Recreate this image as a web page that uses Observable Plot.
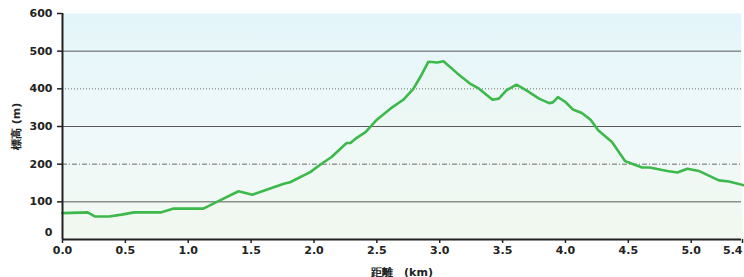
<!DOCTYPE html>
<html>
<head>
<meta charset="utf-8">
<script src="https://cdn.jsdelivr.net/npm/d3@7"></script>
<script src="https://cdn.jsdelivr.net/npm/@observablehq/plot@0.6"></script>
<style>
  html, body { margin: 0; padding: 0; background: #ffffff; }
  #chart svg { display: block; }
</style>
</head>
<body>
<div id="chart"></div>
<script>
const distKm = [0, 0.2, 0.26, 0.37, 0.47, 0.57, 0.78, 0.885, 1.12, 1.24, 1.40, 1.51, 1.76, 1.81, 1.97, 2.06, 2.14, 2.21, 2.26, 2.29, 2.34, 2.41, 2.50, 2.61, 2.71, 2.79, 2.85, 2.91, 2.98, 3.03, 3.14, 3.24, 3.31, 3.42, 3.47, 3.53, 3.61, 3.69, 3.79, 3.87, 3.90, 3.94, 4.00, 4.06, 4.13, 4.20, 4.26, 4.37, 4.475, 4.53, 4.61, 4.67, 4.81, 4.89, 4.97, 5.06, 5.22, 5.30, 5.42];
const elevM = [70, 72, 61, 61, 66, 72, 72, 82, 82, 102, 128, 119, 148, 152, 179, 201, 219, 241, 256, 256, 270, 285, 318, 348, 371, 400, 434, 472, 470, 473, 441, 414, 401, 371, 374, 396, 411, 396, 374, 362, 364, 378, 365, 345, 336, 318, 290, 259, 208, 201, 191, 191, 182, 178, 188, 182, 157, 154, 144];
const xTicks = [0, 0.5, 1.0, 1.5, 2.0, 2.5, 3.0, 3.5, 4.0, 4.5, 5.0];
const xLastTick = [5.4];
const yTicks = [0, 100, 200, 300, 400, 500, 600];
const solidGrid = [100, 300, 500];
const dashDotGrid = [200];
const dottedGrid = [400];
const xLabel = "距離　(km)";
const yLabel = "標高 (m)";

const data = distKm.map((d, i) => ({dist: d, elev: elevM[i]}));

const defs = () => {
  const g = d3.create("svg:defs");
  const bg = g.append("linearGradient").attr("id", "bgGrad").attr("x1", 0).attr("y1", 0).attr("x2", 0).attr("y2", 1);
  bg.append("stop").attr("offset", "0%").attr("stop-color", "#e3f5f9");
  bg.append("stop").attr("offset", "55%").attr("stop-color", "#f0f9fa");
  bg.append("stop").attr("offset", "100%").attr("stop-color", "#f2f9f1");
  const ar = g.append("linearGradient").attr("id", "areaGrad").attr("x1", 0).attr("y1", 0).attr("x2", 0).attr("y2", 1);
  ar.append("stop").attr("offset", "0%").attr("stop-color", "#e9f6ec").attr("stop-opacity", 0.35);
  ar.append("stop").attr("offset", "100%").attr("stop-color", "#eff8ee").attr("stop-opacity", 0.45);
  return g.node();
};

const font = "'DejaVu Sans', Verdana, sans-serif";
const tickStyle = {fontSize: 11, fontWeight: "bold", color: "#222", stroke: "#222", strokeWidth: 1.5};

const chart = Plot.plot({
  width: 744,
  height: 277,
  marginTop: 13,
  marginBottom: 38,
  marginLeft: 62,
  marginRight: 3,
  style: {fontFamily: font, background: "#ffffff"},
  x: {domain: [0, 5.4]},
  y: {domain: [0, 600]},
  marks: [
    defs,
    Plot.frame({fill: "url(#bgGrad)", stroke: null}),
    Plot.areaY(data, {x: "dist", y: "elev", fill: "url(#areaGrad)", curve: "linear"}),
    Plot.ruleY(solidGrid, {stroke: "#5a5a5a", strokeWidth: 1}),
    Plot.ruleY(dashDotGrid, {stroke: "#6a6a6a", strokeWidth: 1, strokeDasharray: "5,2,1,2"}),
    Plot.ruleY(dottedGrid, {stroke: "#6a6a6a", strokeWidth: 1, strokeDasharray: "1,2"}),
    Plot.lineY(data, {x: "dist", y: "elev", stroke: "#3cb94a", strokeWidth: 2.6, strokeLinejoin: "round", strokeLinecap: "round"}),
    Plot.axisX({ticks: xTicks, tickFormat: d3.format(".1f"), tickSize: 4, tickPadding: 3, ...tickStyle,
      label: xLabel, labelAnchor: "center", labelArrow: "none", labelOffset: 36}),
    Plot.axisX({ticks: xLastTick, tickFormat: d3.format(".1f"), tickSize: 4, tickPadding: 3, ...tickStyle, textAnchor: "end", dx: 1, label: null}),
    Plot.axisY({ticks: yTicks.filter(d => d > 0), tickSize: 5, tickPadding: 5, ...tickStyle,
      label: yLabel, labelAnchor: "center", labelArrow: "none", labelOffset: 50}),
    Plot.axisY({ticks: [0], tickSize: 0, tickPadding: 10, dy: -7, fontSize: 11, fontWeight: "bold", color: "#222", label: null}),
    Plot.ruleX([0], {stroke: "#222", strokeWidth: 2}),
    Plot.ruleY([0], {stroke: "#222", strokeWidth: 2})
  ]
});

chart.querySelectorAll("[aria-label='x-axis label'] text, [aria-label='y-axis label'] text").forEach(t => {
  t.setAttribute("font-weight", "bold");
  t.setAttribute("font-size", "11");
  t.setAttribute("fill", "#222");
});
document.getElementById("chart").appendChild(chart);
</script>
</body>
</html>
